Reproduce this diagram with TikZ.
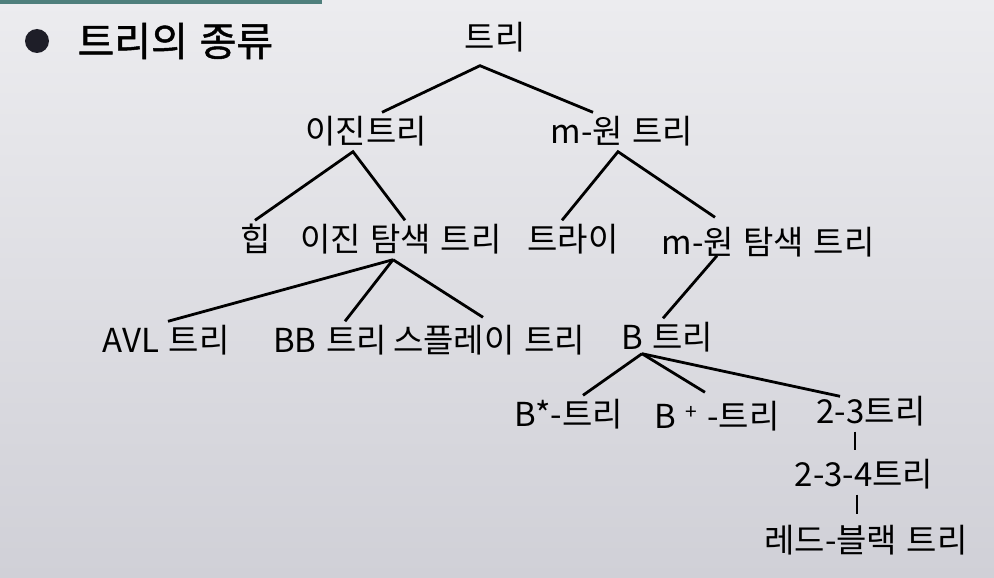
\documentclass[tikz,border=0pt]{standalone}
\usepackage{fontspec}
\setmainfont[WordSpace=1.3]{Noto Sans CJK KR}
\newfontfamily\titlefont[FakeBold=1.2, WordSpace=1.3]{Noto Sans CJK KR}
\usepackage{xcolor}
\colorlet{tree edge}{black}
\definecolor{slide top}{HTML}{ECECEF}
\definecolor{slide bottom}{HTML}{D0D0D7}
\definecolor{slide bar}{HTML}{4F7F7C}
\definecolor{bullet dark}{HTML}{1E1E28}
\tikzset{kind/.style={inner sep=4pt, text height=27pt, text depth=4pt,
        font=\fontsize{33}{33}\selectfont},
    edge/.style={draw=tree edge, line width=2.8pt}}

\begin{document}
\begin{tikzpicture}[x=1pt, y=-1pt]
    % slide background
    \shade[top color=slide top, bottom color=slide bottom] (0,0) rectangle (994,578);
    \useasboundingbox (0,0) rectangle (994,578);
    \fill[slide bar] (0,0) rectangle (322,4);
    % title
    \fill[bullet dark] (37,41) circle (12);
    \node[anchor=west, font=\fontsize{40}{40}\titlefont] (title) at (74,41) {트리의 종류};
    % tree nodes
    \node[kind] (root)  at (495,38)  {트리};
    \node[kind] (bin)   at (366,132) {이진트리};
    \node[kind] (mway)  at (622,132) {m-원 트리};
    \node[kind] (heap)  at (256,240) {힙};
    \node[kind] (bst)   at (401,240) {이진 탐색 트리};
    \node[kind] (trie)  at (573,240) {트라이};
    \node[kind] (mst)   at (768,243) {m-원 탐색 트리};
    \node[kind] (avl)   at (166,341) {AVL 트리};
    \node[kind] (bb)    at (330,341) {BB 트리};
    \node[kind] (splay) at (489,341) {스플레이 트리};
    \node[kind] (btree) at (667,338) {B 트리};
    \node[kind] (bstar) at (569,415) {B*-트리};
    \node[kind] (bplus) at (717,417) {B\ {\fontsize{21}{21}\selectfont\raisebox{9pt}{+}}\ -트리};
    \node[kind] (two3)  at (871,412) {2-3트리};
    \node[kind] (two34) at (864,475) {2-3-4트리};
    \node[kind] (rb)    at (866,541) {레드-블랙 트리};
    % connectors
    \draw[edge] ([xshift=16pt]bin.north) -- ([xshift=-15pt,yshift=-8pt]root.south) -- ([xshift=-29pt]mway.north);
    \draw[edge] ([xshift=-1pt]heap.north) -- ([xshift=-13pt]bin.south) -- ([xshift=4pt]bst.north);
    \draw[edge] ([xshift=-11pt]trie.north) -- ([xshift=-4pt]mway.south) -- ([xshift=-53pt,yshift=6pt]mst.north);
    \draw[edge] ([xshift=2pt]avl.north) -- ([xshift=-8pt]bst.south);
    \draw[edge] ([xshift=15pt]bb.north) -- ([xshift=-8pt]bst.south);
    \draw[edge] ([xshift=-6pt,yshift=4pt]splay.north) -- ([xshift=-8pt]bst.south);
    \draw[edge] ([xshift=-51pt,yshift=7pt]mst.south) -- ([xshift=-4pt]btree.north);
    \draw[edge] ([xshift=14pt]bstar.north) -- ([xshift=-25pt,yshift=4pt]btree.south);
    \draw[edge] ([xshift=-12pt,yshift=5pt]bplus.north) -- ([xshift=-25pt,yshift=4pt]btree.south);
    \draw[edge] ([xshift=-31pt,yshift=-4pt]two3.north) -- ([xshift=-25pt,yshift=4pt]btree.south);
    \draw[edge] ([xshift=-16pt]two3.south) -- ([xshift=-9pt,yshift=5pt]two34.north);
    \draw[edge] ([xshift=-7pt]two34.south) -- ([xshift=-9pt,yshift=7pt]rb.north);
\end{tikzpicture}
\end{document}
